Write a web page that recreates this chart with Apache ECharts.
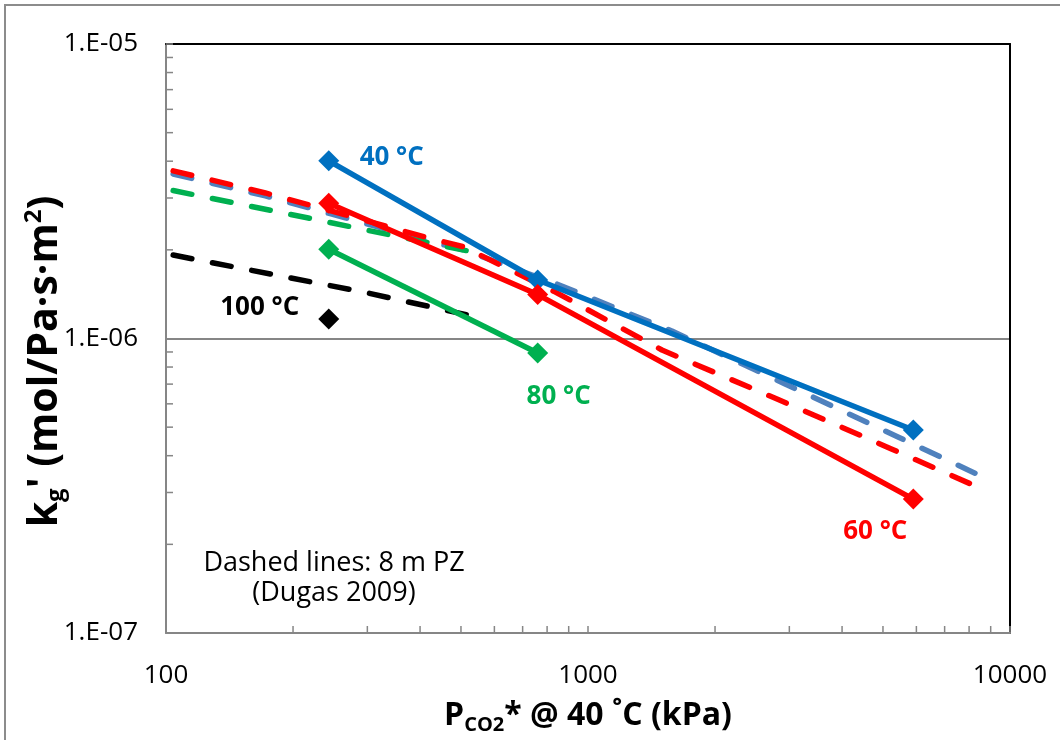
<!DOCTYPE html>
<html>
<head>
<meta charset="utf-8">
<title>kg' vs PCO2*</title>
<script src="https://cdn.jsdelivr.net/npm/echarts@6/dist/echarts.min.js"></script>
<style>
  html, body { margin: 0; padding: 0; background: #fff; }
  #chart { width: 1060px; height: 740px; }
</style>
</head>
<body>
<div id="chart"></div>
<script>
// measured points: P*CO2 (kPa) and kg' (mol/Pa·s·m2)
const pco2 = [243, 760, 5900];
const kg40 = [4.01e-6, 1.58e-6, 4.89e-7];
const kg60 = [2.88e-6, 1.41e-6, 2.85e-7];
const kg80 = [2.01e-6, 8.93e-7];
const kg100 = [1.165e-6];

// dashed lines: 8 m PZ (Dugas 2009)
const dugasX40 = [104, 172, 266, 411, 506, 845, 1581, 2931, 5428, 8260];
const dugas40 = [3.62e-6, 3.05e-6, 2.57e-6, 2.16e-6, 2.0e-6, 1.53e-6, 1.06e-6, 7.01e-7, 4.63e-7, 3.49e-7];
const dugasX60 = [104, 172, 266, 411, 506, 835, 1497, 2805, 5253, 8260];
const dugas60 = [3.71e-6, 3.12e-6, 2.63e-6, 2.21e-6, 2.05e-6, 1.44e-6, 9.14e-7, 6.23e-7, 4.21e-7, 3.16e-7];
const dugasX80 = [104, 216, 540];
const dugas80 = [3.18e-6, 2.57e-6, 1.96e-6];
const dugasX100 = [104, 299, 535];
const dugas100 = [1.92e-6, 1.43e-6, 1.19e-6];

// axes
const xTicks = [100, 1000, 10000];
const yTicks = [1e-7, 1e-6, 1e-5];
const yTickLabels = ['1.E-07', '1.E-06', '1.E-05'];
const xMinor = [200, 300, 400, 500, 600, 700, 800, 900, 2000, 3000, 4000, 5000, 6000, 7000, 8000, 9000];
const yMinor = [2e-7, 3e-7, 4e-7, 5e-7, 6e-7, 7e-7, 8e-7, 9e-7, 2e-6, 3e-6, 4e-6, 5e-6, 6e-6, 7e-6, 8e-6, 9e-6];

const FONT = '"Open Sans", "DejaVu Sans", sans-serif';
const GRAY = '#868686';

function pts(xs, ys) {
  return ys.map(function (y, i) { return [xs[i], y]; });
}

// put a text label on one point of a series
function tag(data, idx, text, offset, color) {
  data[idx] = {
    value: data[idx],
    label: {
      show: true, formatter: text, position: 'inside', offset: offset,
      color: color, fontSize: 26, fontWeight: 'bold', fontFamily: FONT
    }
  };
  return data;
}

function solid(name, color, data) {
  return {
    name: name, type: 'line', data: data,
    symbol: 'diamond', symbolSize: 21, showSymbol: true,
    itemStyle: { color: color, opacity: 1 },
    lineStyle: { color: color, width: 5.5 },
    z: 3
  };
}

function dashed(name, color, data) {
  return {
    name: name, type: 'line', data: data, symbol: 'none',
    lineStyle: { color: color, width: 5.5, type: [19, 21], cap: 'round' },
    z: 2
  };
}

// small ticks inside the plot, placed through the axes
function minorTicks(values, dir) {
  return {
    type: 'custom', silent: true, z: 1,
    data: values.map(function (v) { return dir === 'x' ? [v, yTicks[0]] : [xTicks[0], v]; }),
    renderItem: function (params, api) {
      const p = api.coord([api.value(0), api.value(1)]);
      const shape = dir === 'x'
        ? { x1: p[0], y1: p[1], x2: p[0], y2: p[1] - 7 }
        : { x1: p[0], y1: p[1], x2: p[0] + 7, y2: p[1] };
      return { type: 'line', shape: shape, style: { stroke: GRAY, lineWidth: 1.5 } };
    }
  };
}

const myChart = echarts.init(document.getElementById('chart'));

const option = {
  animation: false,
  backgroundColor: '#fff',
  grid: { left: 166, right: 50, top: 44, bottom: 107 },
  graphic: [
    {
      type: 'rect', silent: true, z: -10,
      shape: { x: 5, y: 5, width: 1200, height: 900 },
      style: { fill: 'none', stroke: '#8c8c8c', lineWidth: 2 }
    },
    {
      type: 'text', silent: true,
      x: 334, y: 578,
      style: {
        text: 'Dashed lines: 8 m PZ\n(Dugas 2009)',
        fill: '#000', fontSize: 27, fontFamily: FONT,
        align: 'center', verticalAlign: 'middle', lineHeight: 30
      }
    }
  ],
  xAxis: [
    {
      type: 'log', logBase: 10, min: xTicks[0], max: xTicks[2],
      position: 'bottom',
      axisLine: { lineStyle: { color: GRAY, width: 2 } },
      axisTick: { inside: true, length: 7, lineStyle: { color: GRAY, width: 1.5 } },
      splitLine: { show: false },
      axisLabel: {
        margin: 30, color: '#000', fontSize: 26, fontFamily: FONT,
        formatter: function (v) { return String(Math.round(v)); }
      },
      name: '{b|P}{sub|CO2}{b|* @ 40 ˚C (kPa)}',
      nameLocation: 'middle',
      nameGap: 64,
      nameMoveOverlap: false,
      nameTextStyle: {
        rich: {
          b: { fontSize: 32, fontWeight: 'bold', fontFamily: FONT, color: '#000', lineHeight: 38 },
          sub: { fontSize: 20, fontWeight: 'bold', fontFamily: FONT, color: '#000', lineHeight: 20, verticalAlign: 'bottom' }
        }
      }
    },
    {
      type: 'log', logBase: 10, min: xTicks[0], max: xTicks[2],
      position: 'top',
      axisLine: { lineStyle: { color: '#000', width: 2 } },
      axisTick: { show: false }, axisLabel: { show: false }, splitLine: { show: false }
    }
  ],
  yAxis: [
    {
      type: 'log', logBase: 10, min: yTicks[0], max: yTicks[2],
      position: 'left',
      axisLine: { lineStyle: { color: GRAY, width: 2 } },
      axisTick: { inside: true, length: 7, lineStyle: { color: GRAY, width: 1.5 } },
      splitLine: { show: true, showMinLine: false, showMaxLine: false, lineStyle: { color: GRAY, width: 2 } },
      axisLabel: {
        margin: 28, color: '#000', fontSize: 26, fontFamily: FONT,
        formatter: function (v) {
          const e = Math.round(Math.log10(v));
          const i = yTicks.findIndex(function (t) { return Math.round(Math.log10(t)) === e; });
          return i >= 0 ? yTickLabels[i] : '';
        }
      },
      name: '{b|k}{sub|g}{b|\' (mol/Pa·s·m}{sup|2}{b|)}',
      nameLocation: 'middle',
      nameRotate: 90,
      nameGap: 98,
      nameMoveOverlap: false,
      nameTextStyle: {
        padding: [0, 46, 0, 0],
        rich: {
          b: { fontSize: 41, fontWeight: 'bold', fontFamily: FONT, color: '#000', lineHeight: 46 },
          sub: { fontSize: 24, fontWeight: 'bold', fontFamily: FONT, color: '#000', lineHeight: 28, verticalAlign: 'bottom' },
          sup: { fontSize: 24, fontWeight: 'bold', fontFamily: FONT, color: '#000', lineHeight: 24, verticalAlign: 'top' }
        }
      }
    },
    {
      type: 'log', logBase: 10, min: yTicks[0], max: yTicks[2],
      position: 'right',
      axisLine: { lineStyle: { color: '#000', width: 2 } },
      axisTick: { show: false }, axisLabel: { show: false }, splitLine: { show: false }
    }
  ],
  series: [
    minorTicks(xMinor, 'x'),
    minorTicks(yMinor, 'y'),
    solid('40 °C', '#0070C0', tag(pts(pco2, kg40), 0, '40 °C', [63, -3], '#0070C0')),
    solid('60 °C', '#FF0000', tag(pts(pco2, kg60), 2, '60 °C', [-38, 33], '#FF0000')),
    solid('80 °C', '#00B050', tag(pts(pco2, kg80), 1, '80 °C', [21, 44], '#00B050')),
    {
      name: '100 °C', type: 'scatter', symbol: 'diamond', symbolSize: 21,
      itemStyle: { color: '#000', opacity: 1 }, z: 3,
      data: tag(pts(pco2, kg100), 0, '100 °C', [-69, -11], '#000')
    },
    dashed('Dugas 40 °C', '#4F81BD', pts(dugasX40, dugas40)),
    dashed('Dugas 80 °C', '#00B050', pts(dugasX80, dugas80)),
    dashed('Dugas 100 °C', '#000000', pts(dugasX100, dugas100)),
    dashed('Dugas 60 °C', '#FF0000', pts(dugasX60, dugas60))
  ]
};

myChart.setOption(option);
</script>
</body>
</html>
